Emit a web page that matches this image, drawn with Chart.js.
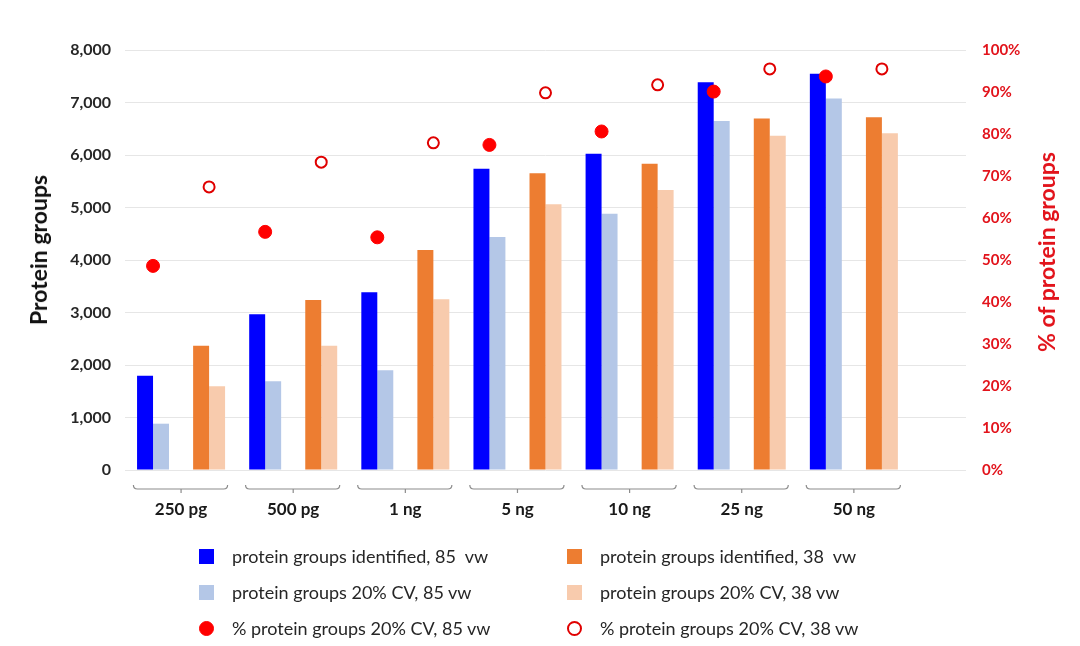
<!DOCTYPE html>
<html>
<head>
<meta charset="utf-8">
<script src="https://cdn.jsdelivr.net/npm/chart.js@4.4.1/dist/chart.umd.min.js"></script>
<style>
  body { margin: 0; background: #fff; }
  #wrap { position: relative; width: 1080px; height: 646px; }
  .axisTitle {
    position: absolute; transform: translate(-50%, -50%) rotate(-90deg);
    font: bold 23px Lato, sans-serif; white-space: nowrap;
  }
  #leftTitle { left: 38px; top: 250px; color: #111111; }
  #rightTitle { left: 1046px; top: 252px; color: #e2131b; }
  .item {
    position: absolute; height: 20px; display: flex; align-items: center;
    font: 18px Lato, sans-serif; color: #262626; white-space: pre;
  }
  .mark { width: 15px; height: 15px; margin-right: 18px; box-sizing: border-box; }
</style>
</head>
<body>
<div id="wrap">
  <canvas id="chart"></canvas>
  <div class="axisTitle" id="leftTitle">Protein groups</div>
  <div class="axisTitle" id="rightTitle">% of protein groups</div>
  <div id="legend"></div>
</div>
<script>
const groups = ['250 pg', '500 pg', '1 ng', '5 ng', '10 ng', '25 ng', '50 ng'];
const identified85 = [1797, 2966, 3384, 5740, 6026, 7385, 7550];
const cv85 = [882, 1689, 1899, 4438, 4883, 6648, 7074];
const identified38 = [2368, 3238, 4190, 5651, 5835, 6693, 6718];
const cv38 = [1594, 2368, 3251, 5060, 5334, 6369, 6413];
const pct85 = [48.6, 56.7, 55.4, 77.4, 80.6, 90.1, 93.7];
const pct38 = [67.4, 73.3, 77.9, 89.8, 91.7, 95.5, 95.5];

// every dose gets two slots (85 vw, 38 vw), plus one empty slot at the end
let slots = [];
let groupLabels = [];
groups.forEach(g => {
  slots.push(g + ', 85 vw', g + ', 38 vw');
  groupLabels.push(g, '');
});
slots.push('');
groupLabels.push('');
function on85(vals) { let out = []; vals.forEach(v => out.push(v, null)); out.push(null); return out; }
function on38(vals) { let out = []; vals.forEach(v => out.push(null, v)); out.push(null); return out; }

const brackets = {
  id: 'brackets',
  afterDraw(chart) {
    let x = chart.scales.x;
    let ctx = chart.ctx;
    let slot = x.getPixelForValue(1) - x.getPixelForValue(0);
    let y = chart.chartArea.bottom + 19;
    ctx.save();
    ctx.strokeStyle = '#8c8c8c';
    ctx.lineWidth = 1.2;
    groups.forEach((g, i) => {
      let p0 = x.getPixelForValue(2 * i), p1 = x.getPixelForValue(2 * i + 1);
      let a = p0 - slot * 0.35, b = p1 + slot * 0.33, m = (p0 + p1) / 2;
      ctx.beginPath();
      ctx.moveTo(a, y - 4);
      ctx.quadraticCurveTo(a, y, a + 4, y);
      ctx.lineTo(b - 4, y);
      ctx.quadraticCurveTo(b, y, b, y - 4);
      ctx.moveTo(m, y);
      ctx.lineTo(m, y + 4);
      ctx.stroke();
    });
    ctx.restore();
  }
};

let barDefaults = { type: 'bar', xAxisID: 'x', yAxisID: 'y', order: 1, skipNull: true,
                    categoryPercentage: 0.57, barPercentage: 1, borderWidth: 0 };
let pointDefaults = { type: 'line', xAxisID: 'x', yAxisID: 'y2', order: 0, showLine: false, pointRadius: 6 };

let myChart = new Chart(document.getElementById('chart'), {
  type: 'bar',
  data: {
    labels: slots,
    datasets: [
      Object.assign({}, barDefaults, { label: 'protein groups identified, 85  vw', data: on85(identified85), backgroundColor: '#0000ff' }),
      Object.assign({}, barDefaults, { label: 'protein groups 20% CV, 85 vw', data: on85(cv85), backgroundColor: '#b4c7e7' }),
      Object.assign({}, barDefaults, { label: 'protein groups identified, 38  vw', data: on38(identified38), backgroundColor: '#ed7d31' }),
      Object.assign({}, barDefaults, { label: 'protein groups 20% CV, 38 vw', data: on38(cv38), backgroundColor: '#f8cbad' }),
      Object.assign({}, pointDefaults, { label: '% protein groups 20% CV, 85 vw', data: on85(pct85),
        pointBackgroundColor: '#ff0000', pointBorderColor: '#ff0000', pointBorderWidth: 1, pointRadius: 6.5 }),
      Object.assign({}, pointDefaults, { label: '% protein groups 20% CV, 38 vw', data: on38(pct38),
        pointBackgroundColor: '#ffffff', pointBorderColor: '#e00000', pointBorderWidth: 2, pointRadius: 5.5 })
    ]
  },
  options: {
    responsive: true,
    maintainAspectRatio: false,
    animation: false,
    layout: { padding: { left: 12, right: 0, top: 50, bottom: 116 } },
    plugins: { legend: { display: false }, tooltip: { enabled: false } },
    font: { family: 'Lato, sans-serif' },
    scales: {
      x: { type: 'category', display: false, offset: true },
      xg: {
        type: 'category', position: 'bottom', labels: groupLabels, offset: true,
        grid: { display: false, drawTicks: false }, border: { display: false },
        afterFit(s) { s.height = 60; },
        ticks: {
          autoSkip: false, maxRotation: 0, padding: 29, color: '#1a1a1a',
          labelOffset: 28,
          font: { family: 'Lato, sans-serif', weight: 'bold', size: 17 }
        }
      },
      y: {
        position: 'left', min: 0, max: 8000,
        grid: { color: '#e6e6e6', drawTicks: false }, border: { display: false },
        afterFit(s) { s.width = 113; },
        ticks: { stepSize: 1000, padding: 14, color: '#262626',
                 font: { family: 'Lato, sans-serif', weight: 'bold', size: 16 } }
      },
      y2: {
        position: 'right', min: 0, max: 100,
        grid: { display: false, drawTicks: false }, border: { display: false },
        afterFit(s) { s.width = 114; },
        ticks: { stepSize: 10, padding: 16, color: '#e2131b', callback: v => v + '%',
                 font: { family: 'Lato, sans-serif', weight: 'bold', size: 15 } }
      }
    }
  },
  plugins: [brackets]
});

// legend in two columns, built from the chart's datasets
let legendOrder = [0, 2, 1, 3, 4, 5];
let legendBox = document.getElementById('legend');
legendOrder.forEach((di, k) => {
  let ds = myChart.data.datasets[di];
  let col = k % 2, row = Math.floor(k / 2);
  let item = document.createElement('div');
  item.className = 'item';
  item.style.left = (col == 0 ? 199 : 567) + 'px';
  item.style.top = (546 + row * 36) + 'px';
  let mark = document.createElement('span');
  mark.className = 'mark';
  if (ds.type == 'line') {
    mark.style.borderRadius = '50%';
    mark.style.background = ds.pointBackgroundColor;
    mark.style.border = (ds.pointBorderWidth + 0.5) + 'px solid ' + ds.pointBorderColor;
  } else {
    mark.style.background = ds.backgroundColor;
  }
  let text = document.createElement('span');
  text.textContent = ds.label;
  item.appendChild(mark);
  item.appendChild(text);
  legendBox.appendChild(item);
});
</script>
</body>
</html>
